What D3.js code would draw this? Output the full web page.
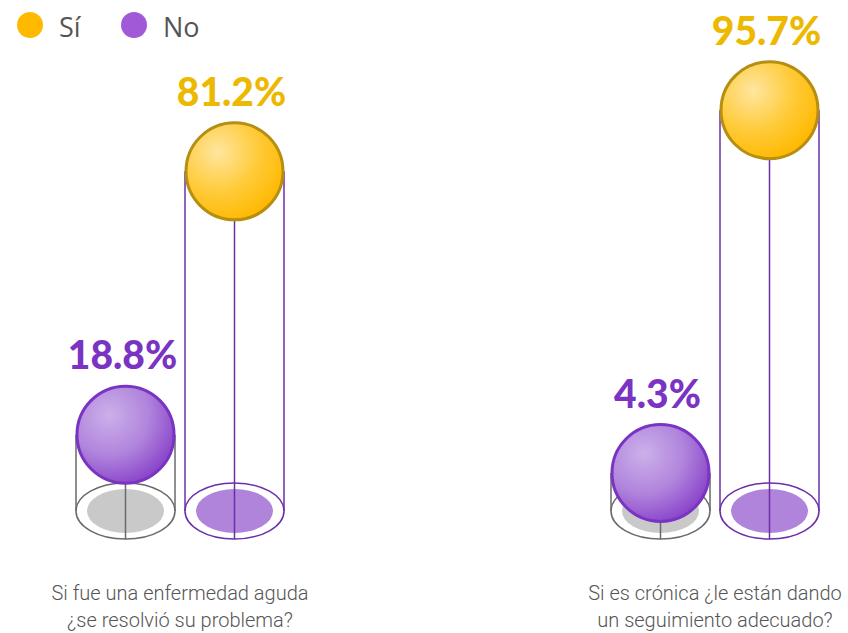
<!DOCTYPE html>
<html>
<head>
<meta charset="utf-8">
<script src="https://cdn.jsdelivr.net/npm/d3@7"></script>
<style>
  html, body { margin: 0; padding: 0; background: #fff; }
  svg { display: block; }
</style>
</head>
<body>
<svg id="chart" width="848" height="633"></svg>
<script>
// ---- data ----
const categories = ["Si fue una enfermedad aguda|¿se resolvió su problema?", "Si es crónica ¿le están dando|un seguimiento adecuado?"];
const series = ["No", "Sí"];
const legendLabels = ["Sí", "No"];
const siValues = [81.2, 95.7];
const noValues = [18.8, 4.3];

// ---- layout ----
const W = 848, H = 633;
const svg = d3.select("#chart");
const baseY = 511;
const R = 49.5;         // sphere & cylinder radius
const ry = 28;          // ellipse vertical radius
const innerRx = 38.5, innerRy = 22;

const xGroup = d3.scalePoint().domain(categories).range([180, 715]);
const xSeries = d3.scalePoint().domain(series).range([-54.5, 54.5]);
const y = d3.scaleLinear().domain([0, 100]).range([514, 92]);

const style = {
  "Sí": { light: "#FFE6A0", mid: "#FFCB3A", dark: "#FFB800", stroke: "#B68E12", label: "#EDB900",
          cyl: "#6B2FA8", inner: "#B084DA", legend: "#FFBA00" },
  "No": { light: "#CDB0EA", mid: "#B084DC", dark: "#8A44CA", stroke: "#7A34C2", label: "#7B33C3",
          cyl: "#6A6A6A", inner: "#C9C9C9", legend: "#A259D8" }
};

const defs = svg.append("defs");
series.forEach((s, i) => {
  const g = defs.append("radialGradient").attr("id", "grad" + i)
    .attr("cx", "0.33").attr("cy", "0.3").attr("r", "0.75").attr("fx", "0.33").attr("fy", "0.3");
  g.append("stop").attr("offset", "0%").attr("stop-color", style[s].light);
  g.append("stop").attr("offset", "55%").attr("stop-color", style[s].mid);
  g.append("stop").attr("offset", "100%").attr("stop-color", style[s].dark);
});

const rows = [];
categories.forEach((c, gi) => {
  rows.push({ cat: c, s: "No", v: noValues[gi] });
  rows.push({ cat: c, s: "Sí", v: siValues[gi] });
});

rows.forEach(d => {
  const cx = xGroup(d.cat) + xSeries(d.s);
  const cy = Math.min(y(d.v), baseY - 38);
  const st = style[d.s];
  const g = svg.append("g");
  // cylinder base
  g.append("ellipse").attr("cx", cx).attr("cy", baseY).attr("rx", R).attr("ry", ry)
    .attr("fill", "#fff").attr("stroke", st.cyl).attr("stroke-width", 1.5);
  g.append("ellipse").attr("cx", cx).attr("cy", baseY).attr("rx", innerRx).attr("ry", innerRy)
    .attr("fill", st.inner);
  // side lines
  [-R, R].forEach(dx => {
    g.append("line").attr("x1", cx + dx).attr("x2", cx + dx).attr("y1", cy).attr("y2", baseY)
      .attr("stroke", st.cyl).attr("stroke-width", 1.5);
  });
  // center line
  g.append("line").attr("x1", cx).attr("x2", cx).attr("y1", cy).attr("y2", baseY + ry)
    .attr("stroke", st.cyl).attr("stroke-width", 1.5);
  // sphere
  g.append("circle").attr("cx", cx).attr("cy", cy).attr("r", R - 1)
    .attr("fill", "url(#grad" + series.indexOf(d.s) + ")")
    .attr("stroke", st.stroke).attr("stroke-width", 3);
  // value label
  g.append("text").attr("x", cx - 3).attr("y", cy - R - 16)
    .attr("text-anchor", "middle")
    .attr("font-family", "Lato, sans-serif").attr("font-weight", 900).attr("font-size", 39)
    .attr("fill", st.label)
    .text(d3.format(".1f")(d.v) + "%");
});

// category labels
categories.forEach(c => {
  const lines = c.split("|");
  const t = svg.append("text").attr("text-anchor", "middle")
    .attr("font-family", "Roboto, sans-serif").attr("font-weight", 300).attr("font-size", 20)
    .attr("fill", "#555");
  lines.forEach((ln, i) => {
    t.append("tspan").attr("x", xGroup(c)).attr("y", 600 + i * 27).text(ln);
  });
});

// legend
const legX = [30, 134];
legendLabels.forEach((s, i) => {
  svg.append("circle").attr("cx", legX[i]).attr("cy", 25).attr("r", 13).attr("fill", style[s].legend);
  svg.append("text").attr("x", legX[i] + 29).attr("y", 37)
    .attr("font-family", "'Open Sans', sans-serif").attr("font-size", 27).attr("fill", "#555")
    .text(s);
});
</script>
</body>
</html>
